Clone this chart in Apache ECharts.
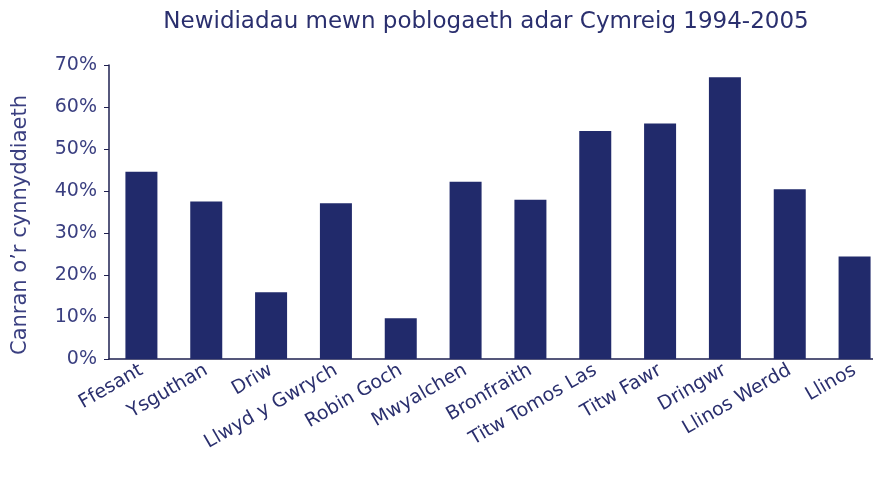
<!DOCTYPE html>
<html><head><meta charset="utf-8">
<script src="https://cdn.jsdelivr.net/npm/echarts@6/dist/echarts.min.js"></script>
<style>html,body{margin:0;padding:0;background:#fff;overflow:hidden}#c{width:890px;height:482px}</style>
</head><body><div id="c"></div>
<script>
const categories = ["Ffesant","Ysguthan","Driw","Llwyd y Gwrych","Robin Goch","Mwyalchen","Bronfraith","Titw Tomos Las","Titw Fawr","Dringwr","Llinos Werdd","Llinos"];
const values = [44.6, 37.5, 15.9, 37.1, 9.7, 42.2, 37.9, 54.3, 56.1, 67.1, 40.4, 24.4];
const yTicks = [0,10,20,30,40,50,60,70];
const titleText = "Newidiadau mewn poblogaeth adar Cymreig 1994-2005";
const yName = "Canran o\u2019r cynnyddiaeth";

const navy = '#2a2f6e';
const font = 'DejaVu Sans';
const chart = echarts.init(document.getElementById('c'));
chart.setOption({
  animation:false,
  title:{text:titleText,left:481,top:6,textAlign:'center',textStyle:{fontFamily:font,fontSize:23,fontWeight:'normal',color:navy}},
  grid:{left:109,top:65,right:3,bottom:123,containLabel:false},
  xAxis:{type:'category',data:categories,
    axisLine:{lineStyle:{color:'#1e2050',width:1.5}},
    axisTick:{show:false},
    axisLabel:{rotate:30,interval:0,fontFamily:font,fontSize:19,color:navy,margin:10}},
  yAxis:{type:'value',min:0,max:70,interval:10,name:yName,nameLocation:'middle',nameGap:78,
    nameTextStyle:{fontFamily:font,fontSize:21,color:'#3a3f80',padding:[0,26,0,0]},
    axisLine:{show:true,lineStyle:{color:'#1e2050',width:1.5}},
    axisTick:{show:true,length:5,lineStyle:{color:'#1e2050'}},
    splitLine:{show:false},
    axisLabel:{fontFamily:font,fontSize:19,fontWeight:'normal',color:'#3a3f80',margin:12,formatter:v=>yTicks.includes(v)?v+'%':''}},
  series:[{type:'bar',data:values,barWidth:32,itemStyle:{color:'#212a6b'}}]
});
</script></body></html>
